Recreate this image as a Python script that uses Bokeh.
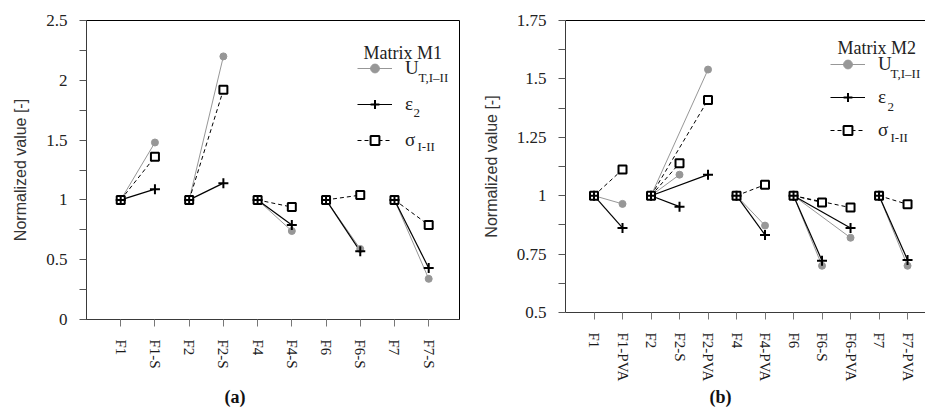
from bokeh.plotting import figure
from bokeh.layouts import row
from bokeh.models import (FixedTicker, Legend, LegendItem, Label, LinearAxis,
                          Range1d, ColumnDataSource, Title)
from bokeh.embed import file_html
from bokeh.resources import INLINE

# ---------------- data ----------------
cats_a = ["F1", "F1-S", "F2", "F2-S", "F4", "F4-S", "F6", "F6-S", "F7", "F7-S"]
u_a = [1, 1.48, 1, 2.2, 1, 0.74, 1, 0.59, 1, 0.34]
eps_a = [1, 1.09, 1, 1.14, 1, 0.79, 1, 0.57, 1, 0.43]
sig_a = [1, 1.36, 1, 1.92, 1, 0.94, 1, 1.04, 1, 0.79]

cats_b = ["F1", "F1-PVA", "F2", "F2-S", "F2-PVA", "F4", "F4-PVA",
          "F6", "F6-S", "F6-PVA", "F7", "F7-PVA"]
u_b = [1, 0.965, 1, 1.09, 1.54, 1, 0.872, 1, 0.70, 0.82, 1, 0.70]
eps_b = [1, 0.862, 1, 0.953, 1.09, 1, 0.832, 1, 0.722, 0.862, 1, 0.725]
sig_b = [1, 1.112, 1, 1.139, 1.41, 1, 1.047, 1, 0.971, 0.949, 1, 0.963]

yticks_a = [0, 0.5, 1, 1.5, 2, 2.5]
yminor_a = [0.25, 0.75, 1.25, 1.75, 2.25]
yticks_b = [0.5, 0.75, 1, 1.25, 1.5, 1.75]
yminor_b = [0.625, 0.875, 1.125, 1.375, 1.625]

GRAY = "#979797"
SERIF = "Liberation Serif"
SANS = "Liberation Sans"
AXIS_C = "#3a3a3a"


def segments(cats, vals):
    d = dict(x0=[], y0=[], x1=[], y1=[])
    for i, c in enumerate(cats):
        if "-" in c:
            j = cats.index(c.split("-")[0])
            d["x0"].append(j + 1)
            d["y0"].append(vals[j])
            d["x1"].append(i + 1)
            d["y1"].append(vals[i])
    return d


def panel(cats, u, eps, sig, yticks, yminor, x_end, fw, fh, bl, br, bb,
          leg_loc, spacing, title, title_xy, subs, caption, cap_off, cap_standoff,
          outline):
    xs = list(range(1, len(cats) + 1))
    p = figure(frame_width=fw, frame_height=fh, x_range=Range1d(0, x_end),
               y_range=Range1d(yticks[0], yticks[-1]),
               output_backend="svg", toolbar_location=None,
               min_border_left=bl, min_border_right=br, min_border_top=20,
               min_border_bottom=bb, background_fill_color="white",
               border_fill_color="white")
    p.grid.visible = False
    p.outline_line_color = "black" if outline else None

    # x axis
    xa = p.xaxis[0]
    xa.ticker = FixedTicker(ticks=xs, minor_ticks=[])
    xa.major_label_overrides = {x: c for x, c in zip(xs, cats)}
    xa.major_label_orientation = "vertical"
    xa.major_label_text_font = SERIF
    xa.major_label_text_font_size = "15px"
    xa.major_label_text_color = "#1a1a1a"
    xa.major_label_standoff = 13
    xa.major_tick_out = 7
    xa.major_tick_in = 0
    xa.major_tick_line_color = "#777777"
    xa.axis_line_color = AXIS_C
    xa.minor_tick_line_color = None

    # y axis
    ya = p.yaxis[0]
    ya.ticker = FixedTicker(ticks=yticks, minor_ticks=yminor)
    ya.major_label_overrides = {v: f"{v:g}" for v in yticks}
    ya.major_label_text_font = SERIF
    ya.major_label_text_font_size = "17px"
    ya.major_label_text_color = "#222222"
    ya.major_label_standoff = 12
    ya.major_tick_out = 7
    ya.major_tick_in = 0
    ya.minor_tick_out = 7
    ya.minor_tick_in = 0
    ya.major_tick_line_color = "#555555"
    ya.minor_tick_line_color = "#555555"
    ya.axis_line_color = AXIS_C
    ya.axis_label = "Normalized value [-]"
    ya.axis_label_text_font = SANS
    ya.axis_label_text_font_size = "16px"
    ya.axis_label_text_font_style = "normal"
    ya.axis_label_text_color = "#333333"
    ya.axis_label_standoff = 14

    if not outline:
        top = LinearAxis(ticker=FixedTicker(ticks=[]), axis_line_color="black",
                         major_tick_out=0, major_tick_in=0,
                         minor_tick_out=0, minor_tick_in=0,
                         major_label_text_font_size="0px")
        p.add_layout(top, "above")

    su = ColumnDataSource(segments(cats, u))
    ss = ColumnDataSource(segments(cats, sig))
    se = ColumnDataSource(segments(cats, eps))
    r_us = p.segment("x0", "y0", "x1", "y1", source=su, line_color=GRAY, line_width=1)
    r_ss = p.segment("x0", "y0", "x1", "y1", source=ss, line_color="black",
                     line_width=1, line_dash="4 3")
    r_es = p.segment("x0", "y0", "x1", "y1", source=se, line_color="black", line_width=1.2)
    r_up = p.scatter(xs, u, marker="circle", size=7, fill_color=GRAY, line_color=GRAY)
    r_sp = p.scatter(xs, sig, marker="square", size=8, fill_color="white",
                     line_color="black", line_width=2)
    r_ep = p.scatter(xs, eps, marker="cross", size=10, line_color="black", line_width=2)

    legend = Legend(items=[LegendItem(label="U", renderers=[r_us, r_up]),
                           LegendItem(label="ε", renderers=[r_es, r_ep]),
                           LegendItem(label="σ", renderers=[r_ss, r_sp])],
                    location=leg_loc, glyph_width=35, glyph_height=22,
                    label_height=22, spacing=spacing, padding=0, margin=0,
                    label_standoff=13, label_text_font=SERIF,
                    label_text_font_size="19px", label_text_color="#222222",
                    border_line_alpha=0, background_fill_alpha=0)
    p.add_layout(legend)

    p.add_layout(Label(x=title_xy[0], y=title_xy[1], x_units="screen", y_units="screen",
                       text=title, text_font=SERIF, text_font_size="18px",
                       text_color="#222222", text_baseline="alphabetic"))
    for (sx, sy, t) in subs:
        p.add_layout(Label(x=sx, y=sy, x_units="screen", y_units="screen", text=t,
                           text_font=SERIF, text_font_size="13px",
                           text_color="#222222", text_baseline="alphabetic"))
    p.add_layout(Title(text=caption, align="left", offset=cap_off,
                       standoff=cap_standoff, text_font=SERIF,
                       text_font_size="18px", text_font_style="bold",
                       text_color="#111111"), "below")
    return p


pa = panel(cats_a, u_a, eps_a, sig_a, yticks_a, yminor_a, 10.9, 373, 299, 86, 1, 93,
           (271, 168), 14, "Matrix M1", (277, 267),
           [(332, 242, "T,I–II"), (327, 207, "2"), (331, 173, "I-II")],
           "(a)", 138, 26, True)
pb = panel(cats_b, u_b, eps_b, sig_b, yticks_b, yminor_b, 12.63, 360, 292, 105, 0, 100,
           (265, 171), 11, "Matrix M2", (272, 265),
           [(325, 239, "T,I–II"), (322, 206, "2"), (325, 175, "I-II")],
           "(b)", 144, 1, False)

layout = row(pa, pb)
open("out.html", "w").write(file_html(layout, INLINE))
